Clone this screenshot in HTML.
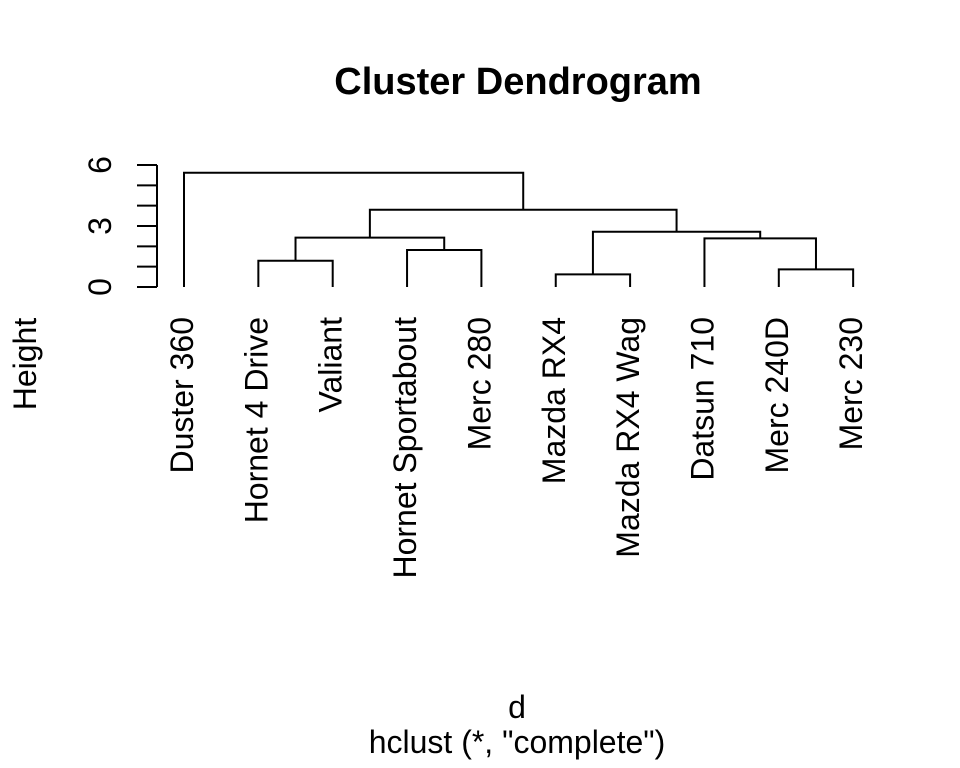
<!DOCTYPE html>
<html><head><meta charset="utf-8"><style>
html,body{margin:0;padding:0;background:#fff;}
svg{display:block;font-family:"Liberation Sans",Arial,sans-serif;}
</style></head><body>
<svg id="chart" width="960" height="768" viewBox="0 0 960 768">
<text x="518" y="94" text-anchor="middle" font-size="38" font-weight="bold">Cluster Dendrogram</text>
<text transform="translate(36,364) rotate(-90)" text-anchor="middle" font-size="32">Height</text>
<text x="517" y="718" text-anchor="middle" font-size="32">d</text>
<text x="517" y="753" text-anchor="middle" font-size="32">hclust (*, "complete")</text>
<g id="axis"></g>
<g id="tree" stroke="#000" stroke-width="2" fill="none"></g>
<g id="labels"></g>
</svg>
<script>
const leaves = ["Duster 360","Hornet 4 Drive","Valiant","Hornet Sportabout","Merc 280","Mazda RX4","Mazda RX4 Wag","Datsun 710","Merc 240D","Merc 230"];
// merges: [left, right, height]; nonnegative = leaf index, negative = -(merge index+1)
const mergeLeft = [1, 3, 5, 8, 7, -1, -3, -6, 0];
const mergeRight = [2, 4, 6, 9, -4, -2, -5, -7, -8];
const mergeHeight = [1.29, 1.82, 0.62, 0.87, 2.39, 2.43, 2.72, 3.80, 5.62];
const yTicks = [0,1,2,3,4,5,6];
const yTickLabels = [0,3,6];

const NS = "http://www.w3.org/2000/svg";
const x = i => 184 + i * 74.35;
const y = v => 287 - v * 20.33;

const axis = document.getElementById('axis');
function line(g,x1,y1,x2,y2,name){
  const l=document.createElementNS(NS,'line');
  l.setAttribute('x1',x1);l.setAttribute('y1',y1);l.setAttribute('x2',x2);l.setAttribute('y2',y2);
  l.setAttribute('stroke','#000');l.setAttribute('stroke-width','2');
  
  
  g.appendChild(l);return l;
}
line(axis,157,y(yTicks[0]),157,y(yTicks[yTicks.length-1]),'y-axis-line');
yTicks.forEach(t=>line(axis,137,y(t),157,y(t),'y-tick'));
yTickLabels.forEach(t=>{
  const tx=document.createElementNS(NS,'text');
  tx.setAttribute('transform',`translate(111,${y(t)}) rotate(-90)`);
  tx.setAttribute('text-anchor','middle');tx.setAttribute('font-size','32');
  tx.textContent=t;
  
  
  axis.appendChild(tx);
});

const tree=document.getElementById('tree');
const pos=[];
function node(id){
  if(id>=0) return {x:x(id),h:0};
  return pos[-id-1];
}
mergeHeight.forEach((h,i)=>{
  const a=node(mergeLeft[i]), b=node(mergeRight[i]);
  const p=document.createElementNS(NS,'path');
  p.setAttribute('d',`M${a.x},${y(a.h)}V${y(h)}H${b.x}V${y(b.h)}`);
  
  
  tree.appendChild(p);
  pos[i]={x:(a.x+b.x)/2,h:h};
});

const lab=document.getElementById('labels');
leaves.forEach((n,i)=>{
  const tx=document.createElementNS(NS,'text');
  tx.setAttribute('transform',`translate(${x(i)+9},317) rotate(-90)`);
  tx.setAttribute('text-anchor','end');tx.setAttribute('font-size','32');
  tx.textContent=n;
  
  
  lab.appendChild(tx);
});
</script>
</body></html>
